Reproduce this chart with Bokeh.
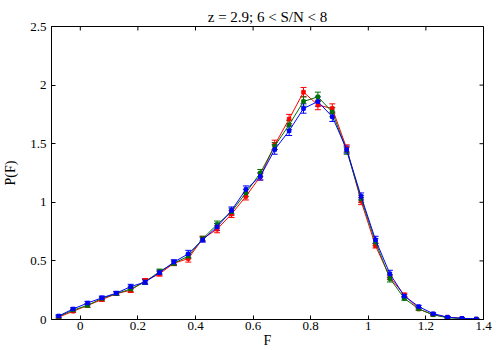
import numpy as np
from bokeh.plotting import figure
from bokeh.models import (ColumnDataSource, Whisker, TeeHead, FixedTicker,
                          CustomJSTickFormatter, Range1d)
from bokeh.embed import file_html
from bokeh.resources import INLINE

F = [-0.075, -0.025, 0.025, 0.075, 0.125, 0.175, 0.225, 0.275, 0.325, 0.375,
     0.425, 0.475, 0.525, 0.575, 0.625, 0.675, 0.725, 0.775, 0.825, 0.875,
     0.925, 0.975, 1.025, 1.075, 1.125, 1.175, 1.225, 1.275, 1.325, 1.375]

red = [0.02, 0.07, 0.12, 0.17, 0.22, 0.25, 0.33, 0.39, 0.48, 0.52,
       0.69, 0.77, 0.90, 1.05, 1.22, 1.49, 1.71, 1.94, 1.83, 1.80,
       1.46, 1.01, 0.63, 0.36, 0.21, 0.09, 0.04, 0.02, 0.01, 0.003]
red_err = [0.01, 0.01, 0.015, 0.015, 0.015, 0.02, 0.02, 0.02, 0.02, 0.03,
           0.02, 0.03, 0.03, 0.03, 0.03, 0.04, 0.04, 0.04, 0.04, 0.04,
           0.03, 0.03, 0.02, 0.02, 0.015, 0.01, 0.008, 0.005, 0.004, 0.002]

green = [0.025, 0.08, 0.12, 0.18, 0.22, 0.26, 0.32, 0.41, 0.48, 0.54,
         0.69, 0.81, 0.92, 1.08, 1.25, 1.48, 1.66, 1.86, 1.90, 1.77,
         1.44, 1.03, 0.66, 0.35, 0.18, 0.09, 0.04, 0.015, 0.008, 0.003]
green_err = [0.01, 0.01, 0.015, 0.015, 0.015, 0.02, 0.02, 0.02, 0.02, 0.02,
             0.02, 0.03, 0.03, 0.03, 0.03, 0.03, 0.04, 0.04, 0.04, 0.04,
             0.03, 0.03, 0.03, 0.03, 0.015, 0.01, 0.008, 0.005, 0.004, 0.002]

blue = [0.03, 0.09, 0.14, 0.185, 0.225, 0.28, 0.32, 0.40, 0.49, 0.56,
        0.68, 0.79, 0.93, 1.11, 1.22, 1.45, 1.61, 1.80, 1.86, 1.73,
        1.45, 1.05, 0.68, 0.39, 0.20, 0.11, 0.05, 0.02, 0.01, 0.005]
blue_err = [0.01, 0.01, 0.015, 0.015, 0.015, 0.02, 0.02, 0.02, 0.02, 0.03,
            0.02, 0.03, 0.03, 0.03, 0.03, 0.04, 0.04, 0.04, 0.04, 0.04,
            0.03, 0.03, 0.03, 0.03, 0.015, 0.01, 0.008, 0.005, 0.004, 0.002]

x_ticks = [0, 0.2, 0.4, 0.6, 0.8, 1.0, 1.2, 1.4]
y_ticks = [0, 0.5, 1.0, 1.5, 2.0, 2.5]

SERIF = "Liberation Serif"
X0, X1, Y0, Y1 = -0.1, 1.4, 0.0, 2.5
W, H = 500, 350
BL, BR, BT, BB = 48, 17, 26, 31
TICK = 4  # px

p = figure(width=W, height=H, output_backend="svg", toolbar_location=None,
           x_range=Range1d(X0, X1), y_range=Range1d(Y0, Y1),
           title="z = 2.9; 6 < S/N < 8",
           min_border_left=BL, min_border_right=BR, min_border_top=BT, min_border_bottom=BB)
p.title.align = "center"
p.title.text_font = SERIF
p.title.text_font_size = "15px"
p.title.text_font_style = "normal"
p.title.text_color = "black"
p.title.standoff = 3
p.grid.visible = False
p.background_fill_color = "white"
p.border_fill_color = "white"
p.outline_line_color = "black"
p.outline_line_width = 1

fmt = CustomJSTickFormatter(code="return String(Math.round(tick*10)/10)")

for ax, ticks in ((p.xaxis[0], x_ticks), (p.yaxis[0], y_ticks)):
    ax.ticker = FixedTicker(ticks=ticks)
    ax.formatter = fmt
    ax.major_tick_in = TICK
    ax.major_tick_out = 0
    ax.minor_tick_line_color = None
    ax.major_label_text_font = SERIF
    ax.major_label_text_font_size = "13px"
    ax.major_label_text_color = "black"
    ax.axis_label_text_font = SERIF
    ax.axis_label_text_font_size = "14px"
    ax.axis_label_text_font_style = "normal"
    ax.axis_label_text_color = "black"
    ax.axis_line_color = "black"
    ax.major_tick_line_color = "black"

p.xaxis[0].axis_label = "F"
p.xaxis[0].major_label_standoff = 2
p.xaxis[0].axis_label_standoff = 0
p.yaxis[0].axis_label = "P(F)"
p.yaxis[0].major_label_standoff = 5
p.yaxis[0].axis_label_standoff = 9

# ticks on top and right edges (mirrored, pointing inward)
fw = W - BL - BR
fh = H - BT - BB
dy = TICK * (Y1 - Y0) / fh
dx = TICK * (X1 - X0) / fw
p.segment(x0=x_ticks, y0=[Y1] * len(x_ticks), x1=x_ticks, y1=[Y1 - dy] * len(x_ticks),
          line_color="black", line_width=1)
p.segment(x0=[X1] * len(y_ticks), y0=y_ticks, x1=[X1 - dx] * len(y_ticks), y1=y_ticks,
          line_color="black", line_width=1)

series = [(red, red_err, "#ff0000"), (green, green_err, "#007000"), (blue, blue_err, "#0000ff")]
for vals, errs, col in series:
    v = np.array(vals)
    e = np.array(errs)
    src = ColumnDataSource(dict(x=F, y=v, lo=v - e, hi=v + e))
    p.line("x", "y", source=src, line_color=col, line_width=1)
    w = Whisker(source=src, base="x", lower="lo", upper="hi", line_color=col, line_width=1,
                upper_head=TeeHead(size=6, line_color=col, line_width=1),
                lower_head=TeeHead(size=6, line_color=col, line_width=1))
    p.add_layout(w)
    p.scatter("x", "y", source=src, marker="square", size=3.5, fill_color=col, line_color=col)

open("out.html", "w").write(file_html(p, INLINE))
